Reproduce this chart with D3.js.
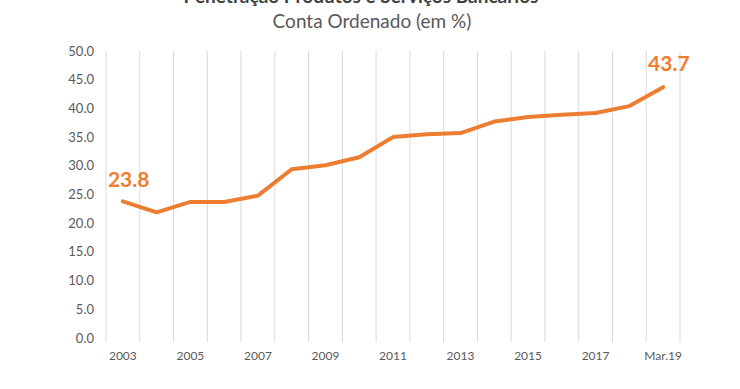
<!DOCTYPE html>
<html>
<head>
<meta charset="utf-8">
<script src="https://cdn.jsdelivr.net/npm/d3@7"></script>
<style>
  body { margin: 0; background: #fff; }
  svg { display: block; font-family: Lato, "Open Sans", sans-serif; }
</style>
</head>
<body>
<svg id="chart" width="740" height="389"></svg>
<script>
// Kategorien und Werte
var categories = ["2003","2004","2005","2006","2007","2008","2009","2010","2011","2012","2013","2014","2015","2016","2017","2018","Mar.19"];
var values = [23.8, 21.9, 23.7, 23.7, 24.8, 29.4, 30.1, 31.5, 35.0, 35.5, 35.7, 37.7, 38.5, 38.9, 39.2, 40.4, 43.7];
var yTicks = [0, 5, 10, 15, 20, 25, 30, 35, 40, 45, 50];
var xLabels = ["2003","2005","2007","2009","2011","2013","2015","2017","Mar.19"];

var svg = d3.select("#chart");
var orange = "#ed7d31";

var x = d3.scaleBand().domain(categories).range([106, 680]);
var y = d3.scaleLinear().domain([0, 50]).range([338, 51]);

// Titel (oben abgeschnitten, wie im Original)
svg.append("text")
  .attr("x", 361).attr("y", 3)
  .attr("text-anchor", "middle")
  .style("font-size", "19px").style("font-weight", "bold").style("fill", "#404040")
  .text("Penetração Produtos e Serviços Bancários");
svg.append("text")
  .attr("x", 372).attr("y", 28)
  .attr("text-anchor", "middle")
  .style("font-size", "19px").style("fill", "#595959")
  .text("Conta Ordenado (em %)");

// vertikale Gitterlinien an den Kategoriegrenzen
var bounds = categories.map(function(c) { return x(c); }).concat([x.range()[1]]);
svg.append("g").selectAll("line").data(bounds).enter().append("line")
  .attr("x1", function(d) { return d; }).attr("x2", function(d) { return d; })
  .attr("y1", y(50)).attr("y2", y(0) + 4)
  .style("stroke", "#d9d9d9").style("stroke-width", 1);

// y-Achse
svg.append("g").selectAll("text").data(yTicks).enter().append("text")
  .attr("x", 94).attr("y", function(d) { return y(d); })
  .attr("dy", "0.35em").attr("text-anchor", "end")
  .style("font-size", "13px").style("fill", "#595959")
  .text(function(d) { return d.toFixed(1); });

// x-Achse
svg.append("g").selectAll("text").data(xLabels).enter().append("text")
  .attr("x", function(d) { return x(d) + x.bandwidth() / 2; })
  .attr("y", 360)
  .attr("text-anchor", "middle")
  .style("font-size", "12px").style("fill", "#595959")
  .text(function(d) { return d; });

// Linie
var line = d3.line()
  .x(function(d, i) { return x(categories[i]) + x.bandwidth() / 2; })
  .y(function(d) { return y(d); });

svg.append("path").datum(values)
  .attr("d", line)
  .style("fill", "none").style("stroke", orange)
  .style("stroke-width", 4).style("stroke-linejoin", "round").style("stroke-linecap", "round");

// Beschriftungen erster und letzter Wert
var first = 0, last = values.length - 1;
svg.append("text")
  .attr("x", x(categories[first]) + x.bandwidth() / 2 - 15).attr("y", y(values[first]) - 14)
  .style("font-size", "21px").style("font-weight", "bold").style("fill", orange)
  .text(values[first].toFixed(1));
svg.append("text")
  .attr("x", x(categories[last]) + x.bandwidth() / 2 - 15).attr("y", y(values[last]) - 16)
  .style("font-size", "21px").style("font-weight", "bold").style("fill", orange)
  .text(values[last].toFixed(1));
</script>
</body>
</html>
